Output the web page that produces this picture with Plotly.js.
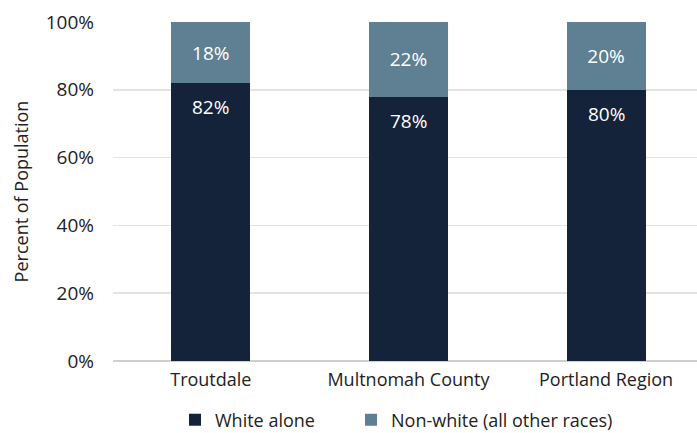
<!DOCTYPE html>
<html><head><meta charset="utf-8">
<script src="https://cdn.plot.ly/plotly-3.0.1.min.js"></script>
<style>html,body{margin:0;padding:0;background:#fff}#c{width:697px;height:433px}</style>
</head><body><div id="c"></div>
<script>
const categories = ["Troutdale", "Multnomah County", "Portland Region"];
const whiteAlone = [82, 78, 80];
const nonWhite = [18, 22, 20];
const seriesNames = ["White alone", "Non-white (all other races)"];
const yTicks = [0, 20, 40, 60, 80, 100];

const FONT = "Open Sans, Liberation Sans, Arial, sans-serif";
const DARK = "#14233a", LIGHT = "#5f7f92";

const traces = [
  {type: "bar", name: seriesNames[0], x: categories, y: whiteAlone, legend: "legend",
   marker: {color: DARK}, width: 0.4, hoverinfo: "none"},
  {type: "bar", name: seriesNames[1], x: categories, y: nonWhite, legend: "legend2",
   marker: {color: LIGHT}, width: 0.4,
   text: nonWhite.map(v => v + "%"), textposition: "inside", insidetextanchor: "middle",
   textfont: {color: "#ffffff", size: 19, family: FONT}, hoverinfo: "none"}
];

const annotations = categories.map((c, i) => ({
  x: c, y: whiteAlone[i], xref: "x", yref: "y", text: whiteAlone[i] + "%",
  showarrow: false, yshift: -24, font: {color: "#ffffff", size: 19, family: FONT}
}));

function leg(px) {
  return {orientation: "h", x: px / 697, xref: "container", xanchor: "left",
          y: 13 / 433, yref: "container", yanchor: "middle",
          font: {size: 18, family: FONT, color: "#222"}, bgcolor: "rgba(0,0,0,0)"};
}

const layout = {
  width: 697, height: 433,
  margin: {l: 113, r: 0, t: 22, b: 72, autoexpand: false},
  barmode: "stack",
  paper_bgcolor: "#fff", plot_bgcolor: "#fff",
  font: {family: FONT, color: "#222", size: 18},
  showlegend: true,
  legend: leg(175),
  legend2: leg(351),
  xaxis: {type: "category", range: [-0.495, 2.46], showgrid: false, zeroline: false,
          showline: false, ticks: "", tickfont: {size: 18}, ticklabelstandoff: 6},
  yaxis: {range: [0, 100], tickvals: yTicks, ticktext: yTicks.map(v => v + "%"),
          showgrid: true, gridcolor: "#e3e3e3", gridwidth: 1.5, zeroline: true,
          zerolinecolor: "#cfcfcf", zerolinewidth: 1.5, showline: false,
          tickfont: {size: 19}, ticklabelstandoff: 18,
          title: {text: "Percent of Population", font: {size: 18}, standoff: 12}},
  annotations: annotations
};

Plotly.newPlot("c", traces, layout, {displayModeBar: false, staticPlot: true});
</script></body></html>
